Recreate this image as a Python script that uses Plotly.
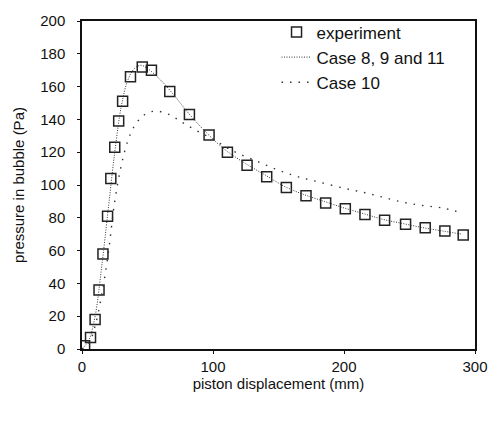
import plotly.graph_objects as go

exp_x = [2, 6.5, 10, 13, 16, 19.5, 22, 25, 28, 31, 37, 46, 53, 67, 82, 97, 111, 126, 141,
         156, 171, 186, 201, 216, 231, 247, 262, 277, 291]
exp_y = [2, 7, 18, 36, 58, 81, 104, 123, 139, 151, 166, 172, 170, 157, 143, 130.5, 120, 112, 105,
         98.5, 93.5, 89, 85.5, 82, 78.5, 76, 74, 72, 69.5]

c8_x = [0, 5, 10, 15, 20, 25, 30, 35, 40, 45, 50, 60, 70, 80, 90, 100, 110, 125, 140, 155,
        170, 185, 200, 215, 230, 245, 260, 275, 290]
c8_y = [0, 5, 20, 50, 85, 120, 148, 164, 171, 173, 171, 164, 155, 145, 136, 128, 121, 113, 106, 99,
        94, 90, 86, 82.5, 79, 76.5, 74, 72, 70]

c10_x = [0, 5, 10, 15, 20, 25, 30, 35, 40, 45, 50, 57, 65, 72, 80, 90, 100, 110, 120, 135,
         150, 165, 180, 200, 215, 230, 245, 260, 275, 290]
c10_y = [0, 3, 14, 33, 58, 90, 112, 127, 136, 141, 144, 145, 143.5, 140.5, 136.5, 132, 128, 123, 119, 114,
         109, 105, 102, 98, 95.5, 92.5, 89.5, 87.5, 86, 83]

fig = go.Figure()
fig.add_trace(go.Scatter(x=exp_x, y=exp_y, mode="markers", name="experiment",
                         marker=dict(symbol="square-open", size=10, color="#222",
                                     line=dict(width=1.5, color="#222"))))
fig.add_trace(go.Scatter(x=c8_x, y=c8_y, mode="lines", name="Case 8, 9 and 11",
                         line=dict(color="#333", width=1, dash="1px 1.5px", shape="spline")))
fig.add_trace(go.Scatter(x=c10_x, y=c10_y, mode="lines", name="Case 10",
                         line=dict(color="#333", width=1.4, dash="1.5px 7px", shape="spline")))

fig.update_layout(
    width=500, height=421,
    margin=dict(l=82, r=17, t=16, b=72),
    paper_bgcolor="white", plot_bgcolor="white",
    font=dict(family="Liberation Sans, Arial, sans-serif", size=15, color="#111"),
    showlegend=True,
    legend=dict(x=0.495, y=1.02, xanchor="left", yanchor="top",
                bgcolor="rgba(0,0,0,0)", font=dict(size=17), itemwidth=30,
                tracegroupgap=0),
)
fig.update_xaxes(range=[0, 300], tickvals=[0, 100, 200, 300], showgrid=False, zeroline=False,
                 showline=True, linecolor="#111", linewidth=1.5, mirror=True,
                 ticks="outside", ticklen=3, tickcolor="#111", ticklabelstandoff=0,
                 tickfont=dict(size=15),
                 title=dict(text="piston displacement (mm)", font=dict(size=15), standoff=4))
fig.update_yaxes(range=[0, 200], dtick=20, showgrid=False, zeroline=False,
                 showline=True, linecolor="#111", linewidth=1.5, mirror=True,
                 ticks="outside", ticklen=3, tickcolor="#111", ticklabelstandoff=9,
                 tickfont=dict(size=15),
                 title=dict(text="pressure in bubble (Pa)", font=dict(size=15), standoff=12))

fig.write_html("out.html")
